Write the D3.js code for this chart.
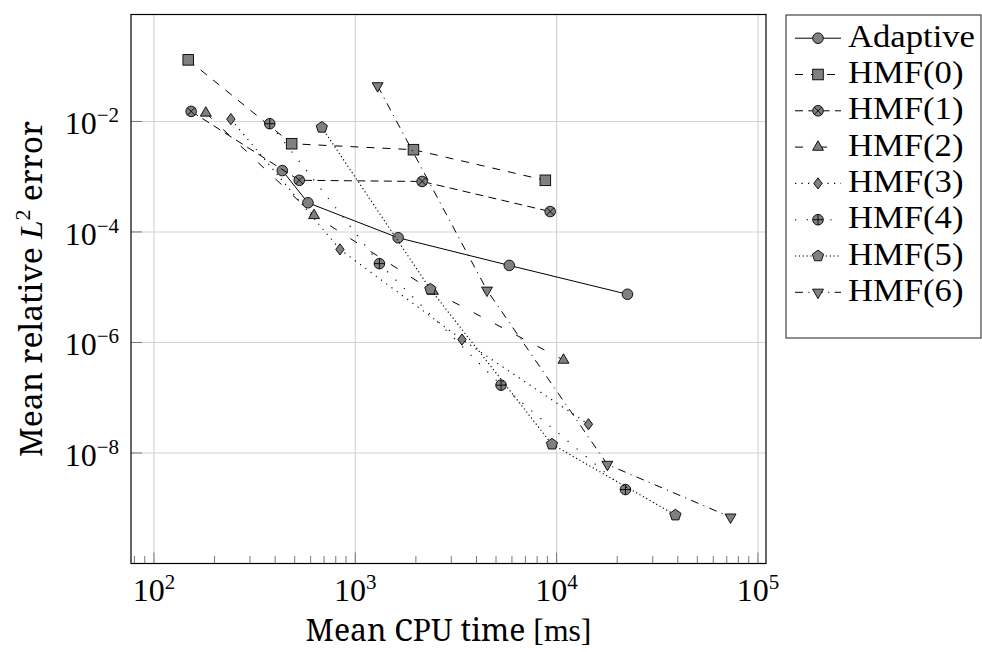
<!DOCTYPE html>
<html>
<head>
<meta charset="utf-8">
<script src="https://cdn.jsdelivr.net/npm/d3@7/dist/d3.min.js"></script>
<style>
  html, body { margin: 0; padding: 0; background: #fff; }
  svg { display: block; }
</style>
</head>
<body>
<script>
// ---- data: mean CPU time [ms] and mean relative L2 error per method ----
const seriesNames = ["Adaptive", "HMF(0)", "HMF(1)", "HMF(2)", "HMF(3)", "HMF(4)", "HMF(5)", "HMF(6)"];

const adaptiveTime  = [434, 582, 1633, 5821, 22490];
const adaptiveError = [1.29e-3, 3.37e-4, 7.85e-5, 2.48e-5, 7.45e-6];

const hmf0Time  = [148, 483, 1945, 8790];
const hmf0Error = [0.130, 3.95e-3, 3.08e-3, 8.6e-4];

const hmf1Time  = [153, 527, 2148, 9290];
const hmf1Error = [0.0152, 8.6e-4, 8.2e-4, 2.34e-4];

const hmf2Time  = [181, 624, 2427, 10820];
const hmf2Error = [0.0142, 1.99e-4, 8.5e-6, 4.8e-7];

const hmf3Time  = [241, 839, 3387, 14390];
const hmf3Error = [0.011, 4.83e-5, 1.13e-6, 3.31e-8];

const hmf4Time  = [376, 1318, 5297, 21970];
const hmf4Error = [9.1e-3, 2.67e-5, 1.69e-7, 2.18e-9];

const hmf5Time  = [682, 2360, 9480, 38900];
const hmf5Error = [7.8e-3, 9.2e-6, 1.44e-8, 7.5e-10];

const hmf6Time  = [1291, 4510, 17870, 73100];
const hmf6Error = [0.044, 8.8e-6, 6.2e-9, 6.9e-10];

const xTickValues = [1e2, 1e3, 1e4, 1e5];
const xTickExponents = ["2", "3", "4", "5"];
const yTickValues = [1e-2, 1e-4, 1e-6, 1e-8];
const yTickExponents = ["\u22122", "\u22124", "\u22126", "\u22128"];

const xAxisTitle = ["Mean CPU time ", "[ms]"];
const yAxisTitle = ["Mean relative ", "L", "2", " error"];

// ---- drawing styles for each series ----
const seriesStyles = [
  { mark: "circle",   dash: null },
  { mark: "square",   dash: "8,8" },
  { mark: "otimes",   dash: "8,5.3" },
  { mark: "triangle", dash: "8,16" },
  { mark: "diamond",  dash: "1.2,5.3" },
  { mark: "oplus",    dash: "1.2,10.6" },
  { mark: "pentagon", dash: "1.2,2.65" },
  { mark: "triangleDown", dash: "8,5.3,1.2,5.3" }
];

const seriesData = [
  [adaptiveTime, adaptiveError],
  [hmf0Time, hmf0Error],
  [hmf1Time, hmf1Error],
  [hmf2Time, hmf2Error],
  [hmf3Time, hmf3Error],
  [hmf4Time, hmf4Error],
  [hmf5Time, hmf5Error],
  [hmf6Time, hmf6Error]
].map(([t, e], i) => ({
  name: seriesNames[i],
  style: seriesStyles[i],
  points: t.map((v, j) => ({ time: v, error: e[j] }))
}));

// ---- layout ----
const width = 982, height = 652;
const plot = { left: 131, top: 14.5, right: 766, bottom: 563.5 };
const TICK_FONT = 32, SUP = 21, TEXT_FONT = 30.5, LEGEND_FONT = 31;
const MATH = "'Liberation Serif', serif";
const TEXT = "'Noto Serif', 'Liberation Serif', serif";
const markFill = "#808080";

const svg = d3.select("body").append("svg")
  .attr("width", width).attr("height", height)
  .attr("viewBox", `0 0 ${width} ${height}`);

const x = d3.scaleLog()
  .domain([Math.pow(10, 1.886), Math.pow(10, 5.04)])
  .range([plot.left, plot.right]);
const y = d3.scaleLog()
  .domain([1e-10, Math.pow(10, -0.065)])
  .range([plot.bottom, plot.top]);

// ---- grid ----
const grid = svg.append("g").attr("stroke", "#d2d2d2").attr("stroke-width", 1.1);
grid.selectAll("line.gx").data(xTickValues).join("line")
  .attr("x1", d => x(d)).attr("x2", d => x(d))
  .attr("y1", plot.top).attr("y2", plot.bottom);
grid.selectAll("line.gy").data(yTickValues).join("line")
  .attr("x1", plot.left).attr("x2", plot.right)
  .attr("y1", d => y(d)).attr("y2", d => y(d));

// ---- ticks (inward, bottom and left) ----
const ticks = svg.append("g").attr("stroke", "#6a6a6a").attr("stroke-width", 0.9);
const minorX = x.ticks().filter(v => {
  const l = Math.log10(v);
  return Math.abs(l - Math.round(l)) > 1e-9;
});
ticks.selectAll("line.mx").data(minorX).join("line")
  .attr("x1", d => x(d)).attr("x2", d => x(d))
  .attr("y1", plot.bottom).attr("y2", plot.bottom - 7.5);
ticks.selectAll("line.Mx").data(xTickValues).join("line")
  .attr("x1", d => x(d)).attr("x2", d => x(d))
  .attr("y1", plot.bottom).attr("y2", plot.bottom - 11);
ticks.selectAll("line.My").data(yTickValues).join("line")
  .attr("x1", plot.left).attr("x2", plot.left + 11)
  .attr("y1", d => y(d)).attr("y2", d => y(d));

// ---- markers ----
function drawMark(g, kind) {
  const common = sel => sel.attr("fill", markFill).attr("stroke", "#000").attr("stroke-width", 0.9);
  const r = 5.3;
  switch (kind) {
    case "circle":
      common(g.append("circle").attr("r", r)); break;
    case "square":
      common(g.append("rect").attr("x", -r).attr("y", -r).attr("width", 2 * r).attr("height", 2 * r)); break;
    case "otimes": {
      common(g.append("circle").attr("r", r));
      const a = r / Math.SQRT2;
      g.append("path").attr("d", `M${-a},${-a}L${a},${a}M${-a},${a}L${a},${-a}`)
        .attr("stroke", "#000").attr("stroke-width", 0.9).attr("fill", "none");
      break;
    }
    case "oplus":
      common(g.append("circle").attr("r", r));
      g.append("path").attr("d", `M${-r},0H${r}M0,${-r}V${r}`)
        .attr("stroke", "#000").attr("stroke-width", 0.9).attr("fill", "none");
      break;
    case "triangle": {
      const t = 6.3, w = t * Math.sqrt(3) / 2;
      common(g.append("path").attr("d", `M0,${-t}L${w},${t / 2}L${-w},${t / 2}Z`)); break;
    }
    case "triangleDown": {
      const t = 6.3, w = t * Math.sqrt(3) / 2;
      common(g.append("path").attr("d", `M0,${t}L${w},${-t / 2}L${-w},${-t / 2}Z`)); break;
    }
    case "diamond":
      common(g.append("path").attr("d", "M0,-5.6L4.2,0L0,5.6L-4.2,0Z")); break;
    case "pentagon": {
      const p = 5.9;
      const pts = d3.range(5).map(k => {
        const ang = -Math.PI / 2 + k * 2 * Math.PI / 5;
        return [p * Math.cos(ang), p * Math.sin(ang)];
      });
      common(g.append("path").attr("d", "M" + pts.map(q => q.join(",")).join("L") + "Z")); break;
    }
  }
}

// ---- series ----
const line = d3.line().x(d => x(d.time)).y(d => y(d.error));
const plotArea = svg.append("g");
seriesData.forEach(s => {
  const g = plotArea.append("g");
  g.append("path").datum(s.points)
    .attr("d", line)
    .attr("fill", "none")
    .attr("stroke", "#000")
    .attr("stroke-width", s.style.dash && s.style.dash.startsWith("1.2") ? 1.15 : 1)
    .attr("stroke-dasharray", s.style.dash);
  g.selectAll("g.pt").data(s.points).join("g")
    .attr("transform", d => `translate(${x(d.time)},${y(d.error)})`)
    .each(function () { drawMark(d3.select(this), s.style.mark); });
});

// ---- frame ----
svg.append("rect")
  .attr("x", plot.left).attr("y", plot.top)
  .attr("width", plot.right - plot.left).attr("height", plot.bottom - plot.top)
  .attr("fill", "none").attr("stroke", "#000").attr("stroke-width", 1.2);

// ---- tick labels ----
const xLabels = svg.append("g");
xTickValues.forEach((v, i) => {
  const t = xLabels.append("text")
    .attr("x", x(v)).attr("y", 601)
    .attr("text-anchor", "middle")
    .attr("font-family", MATH)
    .attr("font-size", TICK_FONT);
  t.append("tspan").text("10");
  t.append("tspan").attr("dy", -12).attr("font-size", SUP).text(xTickExponents[i]);
});
const yLabels = svg.append("g");
yTickValues.forEach((v, i) => {
  const t = yLabels.append("text")
    .attr("x", 119).attr("y", y(v) + 13)
    .attr("text-anchor", "end")
    .attr("font-family", MATH)
    .attr("font-size", TICK_FONT);
  t.append("tspan").text("10");
  t.append("tspan").attr("dy", -12).attr("font-size", SUP).text(yTickExponents[i]);
});

// stretch a text horizontally (in its own frame) to a given width
function fitWidth(textSel, target) {
  const w = textSel.node().getBBox().width;
  if (w > 0) textSel.attr("transform", `scale(${target / w},1)`);
}

// ---- axis titles ----
const xTitleG = svg.append("g").attr("transform", `translate(${(plot.left + plot.right) / 2},641)`);
const xTitle = xTitleG.append("text").attr("text-anchor", "middle")
  .attr("font-family", TEXT).attr("font-size", TEXT_FONT);
xTitle.append("tspan").text(xAxisTitle[0]);
xTitle.append("tspan").attr("font-family", MATH).attr("font-size", 32).text(xAxisTitle[1]);
fitWidth(xTitle, 286);

const yTitleG = svg.append("g").attr("transform", `translate(42,${(plot.top + plot.bottom) / 2}) rotate(-90)`);
const yTitle = yTitleG.append("text").attr("text-anchor", "middle")
  .attr("font-family", TEXT).attr("font-size", TEXT_FONT);
yTitle.append("tspan").text(yAxisTitle[0]);
yTitle.append("tspan").attr("font-family", MATH).attr("font-size", 32).attr("font-style", "italic").text(yAxisTitle[1]);
yTitle.append("tspan").attr("font-family", MATH).attr("dy", -12).attr("font-size", SUP).text(yAxisTitle[2]);
yTitle.append("tspan").attr("dy", 12).text(yAxisTitle[3]);
fitWidth(yTitle, 336);

// ---- legend ----
const legend = svg.append("g");
legend.append("rect")
  .attr("x", 786).attr("y", 15).attr("width", 195).attr("height", 323)
  .attr("fill", "#fff").attr("stroke", "#333").attr("stroke-width", 1.1);
let legendScale = null;
seriesData.forEach((s, i) => {
  const base = 46.7 + i * 36.3;
  const g = legend.append("g");
  g.append("line")
    .attr("x1", 795).attr("x2", 841)
    .attr("y1", base - 8.5).attr("y2", base - 8.5)
    .attr("stroke", "#000")
    .attr("stroke-width", s.style.dash && s.style.dash.startsWith("1.2") ? 1.15 : 1)
    .attr("stroke-dasharray", s.style.dash);
  const m = g.append("g").attr("transform", `translate(818,${base - 8.5})`);
  drawMark(m, s.style.mark);
  const tg = g.append("g").attr("transform", `translate(848,${base})`);
  const t = tg.append("text").attr("font-family", MATH).attr("font-size", LEGEND_FONT).text(s.name);
  if (legendScale === null) {
    legendScale = 127 / t.node().getBBox().width;
  }
  t.attr("transform", `scale(${legendScale},1)`);
});
</script>
</body>
</html>
